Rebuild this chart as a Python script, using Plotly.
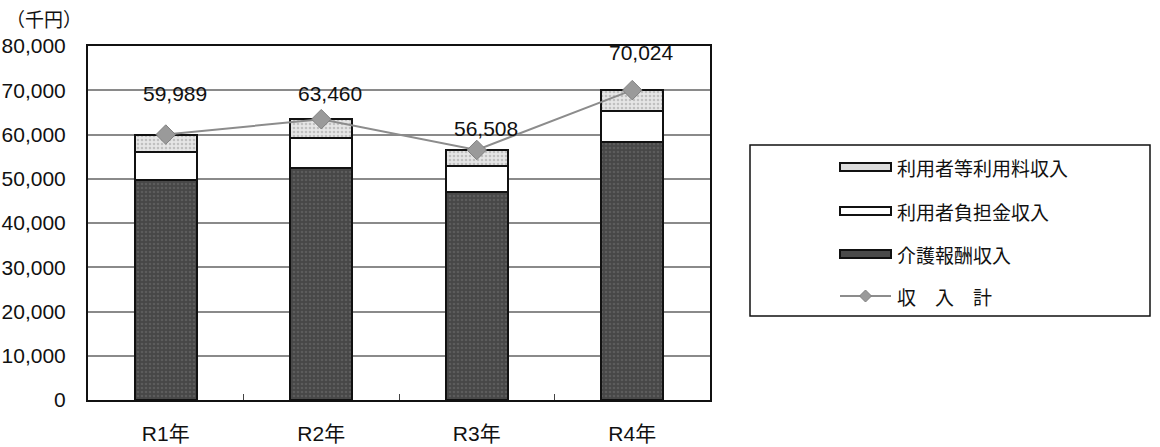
import plotly.graph_objects as go

# Fiscal years and income components (thousand yen)
categories = ["R1年", "R2年", "R3年", "R4年"]
kaigo_income = [49700, 52500, 46900, 58400]      # 介護報酬収入
futan_income = [6250, 6700, 6000, 7000]          # 利用者負担金収入
riyoryo_income = [4040, 4260, 3610, 4620]        # 利用者等利用料収入
total_income = [59989, 63460, 56508, 70024]      # 収入計

y_ticks = [0, 10000, 20000, 30000, 40000, 50000, 60000, 70000, 80000]

# label offsets above each total point (pixels)
label_yshift = [41, 26, 21, 38]
label_xshift = 9

FONT = "Liberation Sans, Arial, Noto Sans CJK JP, sans-serif"
JP_FONT = "Noto Sans CJK JP, sans-serif"

W, H = 1160, 447
L, R, T, B = 88, 450, 46, 47
PW, PH = W - L - R, H - T - B


def px(x):
    """figure pixel x -> paper coordinate"""
    return (x - L) / PW


def py(y):
    """figure pixel y -> paper coordinate"""
    return (H - B - y) / PH


fig = go.Figure()

fig.add_trace(go.Bar(
    x=categories, y=kaigo_income, name="介護報酬収入",
    marker=dict(color="#474747", line=dict(color="#111111", width=2),
                pattern=dict(shape=".", fgcolor="#6a6a6a", size=4, solidity=0.35,
                             fillmode="overlay", fgopacity=0.6)),
))
fig.add_trace(go.Bar(
    x=categories, y=futan_income, name="利用者負担金収入",
    marker=dict(color="#ffffff", line=dict(color="#111111", width=2)),
))
fig.add_trace(go.Bar(
    x=categories, y=riyoryo_income, name="利用者等利用料収入",
    marker=dict(color="#e6e6e6", line=dict(color="#111111", width=2),
                pattern=dict(shape=".", fgcolor="#b0b0b0", size=4, solidity=0.35,
                             fillmode="overlay", fgopacity=0.7)),
))
fig.add_trace(go.Scatter(
    x=categories, y=total_income, name="収　入　計", mode="lines+markers",
    line=dict(color="#8c8c8c", width=2),
    marker=dict(symbol="diamond", size=15, color="#9a9a9a",
                line=dict(color="#808080", width=1)),
))

for cat, val, dy in zip(categories, total_income, label_yshift):
    fig.add_annotation(x=cat, y=val, text=f"{val:,}", showarrow=False,
                       xshift=label_xshift, yshift=dy,
                       font=dict(family=FONT, size=21, color="#111111"))

fig.add_annotation(x=px(4), y=py(19), xref="paper", yref="paper", text="（千円）",
                   showarrow=False, xanchor="left", yanchor="middle",
                   font=dict(family=JP_FONT, size=19, color="#111111"))

# legend panel
shapes = [dict(type="rect", xref="paper", yref="paper",
               x0=px(750), x1=px(1150), y0=py(145), y1=py(316),
               line=dict(color="#111111", width=1.5), fillcolor="rgba(0,0,0,0)")]

legend_rows = [
    ("利用者等利用料収入", "#dcdcdc", 167),
    ("利用者負担金収入", "#ffffff", 211),
    ("介護報酬収入", "#4a4a4a", 254),
]
for label, fill, yc in legend_rows:
    shapes.append(dict(type="rect", xref="paper", yref="paper",
                       x0=px(840), x1=px(891), y0=py(yc + 4), y1=py(yc - 4),
                       line=dict(color="#111111", width=2), fillcolor=fill))
    fig.add_annotation(x=px(895), y=py(yc), xref="paper", yref="paper", text=label,
                       showarrow=False, xanchor="left", yanchor="middle",
                       font=dict(family=JP_FONT, size=19, color="#111111"))

yl = 296
shapes.append(dict(type="line", xref="paper", yref="paper",
                   x0=px(840), x1=px(891), y0=py(yl), y1=py(yl),
                   line=dict(color="#8c8c8c", width=2)))
d = 6
shapes.append(dict(type="path", xref="paper", yref="paper",
                   path=f"M {px(865.5 - d)} {py(yl)} L {px(865.5)} {py(yl - d)} "
                        f"L {px(865.5 + d)} {py(yl)} L {px(865.5)} {py(yl + d)} Z",
                   fillcolor="#9a9a9a", line=dict(color="#808080", width=1)))
fig.add_annotation(x=px(895), y=py(yl), xref="paper", yref="paper", text="収　入　計",
                   showarrow=False, xanchor="left", yanchor="middle",
                   font=dict(family=JP_FONT, size=19, color="#111111"))

fig.update_layout(
    width=W, height=H,
    margin=dict(l=L, r=R, t=T, b=B, autoexpand=False),
    barmode="stack", bargap=0.6,
    showlegend=False,
    paper_bgcolor="white", plot_bgcolor="white",
    shapes=shapes,
    font=dict(family=FONT, color="#111111"),
)
fig.update_xaxes(
    automargin=False,
    showline=True, mirror=True, linecolor="#111111", linewidth=2,
    showgrid=False, ticks="inside", tickson="boundaries", ticklen=6,
    tickcolor="#444444", ticklabelstandoff=14,
    tickfont=dict(family=FONT, size=21, color="#111111"),
)
fig.update_yaxes(
    automargin=False,
    range=[0, 80000], tickvals=y_ticks, tickformat=",",
    showline=True, mirror=True, linecolor="#111111", linewidth=2,
    showgrid=True, gridcolor="#8a8a8a", gridwidth=1.5,
    ticks="", ticklabelstandoff=16, zeroline=False,
    tickfont=dict(family=FONT, size=21, color="#111111"),
)

fig.write_html("out.html")
